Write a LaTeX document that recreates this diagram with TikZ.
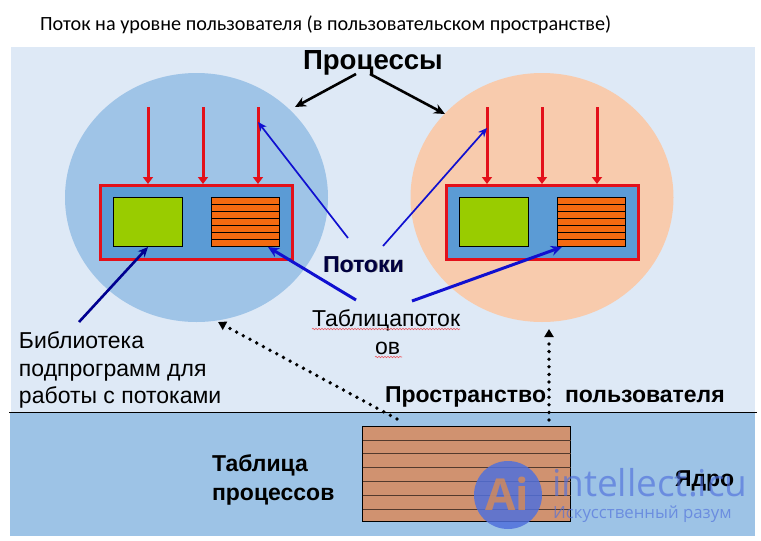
\documentclass[tikz,border=0pt]{standalone}
\usepackage{fontspec}
\setmainfont{Liberation Sans}
\newfontfamily\titlefont{Carlito}
\newfontfamily\wmfont{Open Sans}
\usetikzlibrary{arrows.meta,decorations.pathmorphing}
\definecolor{bgtop}{HTML}{DEE9F6}
\definecolor{bgbot}{HTML}{9DC3E6}
\definecolor{circleL}{HTML}{9FC4E7}
\definecolor{circleR}{HTML}{F8CBAD}
\definecolor{boxfill}{HTML}{5B9BD5}
\definecolor{redc}{HTML}{E3101A}
\definecolor{greenc}{HTML}{99CC00}
\definecolor{orangec}{HTML}{F46A10}
\definecolor{tablec}{HTML}{D09270}
\definecolor{navy}{HTML}{000090}
\definecolor{bluec}{HTML}{1010D0}
\definecolor{wm}{HTML}{5070DC}
\tikzset{
  x=1pt,y=-1pt,
  procbox/.style={draw=redc,line width=3.2pt,fill=boxfill,inner sep=0pt},
  blk/.style={draw=black,line width=1pt,inner sep=0pt},
  redarrow/.style={draw=redc,line width=3pt,-{Triangle[length=7pt,width=10pt]}},
  thinblue/.style={draw=bluec,line width=1.7pt,-{Stealth[length=9pt,width=8pt]}},
  thickblue/.style={draw=bluec,line width=3pt,-{Stealth[length=11pt,width=10pt]}},
  navyarrow/.style={draw=navy,line width=2.6pt,-{Stealth[length=10pt,width=9pt]}},
  blackarrow/.style={draw=black,line width=2.6pt,-{Stealth[length=11pt,width=10pt]}},
  dotarrow/.style={draw=black,line width=3.8pt,line cap=round,dash pattern=on 0pt off 7.6pt,-{Triangle[length=8pt,width=9pt]}},
  txt/.style={inner sep=0pt,outer sep=0pt,anchor=base west,font=\fontsize{23}{27}\selectfont},
  btxt/.style={inner sep=0pt,outer sep=0pt,anchor=base west,font=\fontsize{23}{27}\selectfont\bfseries},
  wavy/.style={draw=redc!70!white,line width=0.6pt,decorate,decoration={snake,amplitude=0.7pt,segment length=3pt}}
}
\begin{document}
\begin{tikzpicture}
\useasboundingbox (0,0) rectangle (761,541);
% backgrounds
\fill[bgtop] (11,47) rectangle (755,412);
\fill[bgbot] (10,412) rectangle (755,536);
\node[txt,font=\titlefont\fontsize{20.2}{24}\selectfont] (title) at (40,30) {Поток на уровне пользователя (в пользовательском пространстве)};
% circles
\fill[circleL] (196.5,197.5) ellipse [x radius=131.5,y radius=124.5];
\fill[circleR] (542,197.5) ellipse [x radius=131.5,y radius=124.5];
\draw[black,line width=0.9pt] (9,412) -- (757,412);
% process boxes
\foreach \nm/\ox/\ax in {L/0/0,R/346/339}{
  \node[procbox,minimum width=192pt,minimum height=74pt,anchor=north west] (box\nm) at (99+\ox,184) {};
  \node[blk,fill=greenc,minimum width=69pt,minimum height=49pt,anchor=north west] (code\nm) at (113+\ox,197) {};
  \node[blk,fill=orangec,minimum width=68pt,minimum height=49pt,anchor=north west] (tab\nm) at (211+\ox,197) {};
  \foreach \k in {1,...,6}{\draw[black,line width=0.9pt] (211.5+\ox,197.5+\k*7) -- (279.5+\ox,197.5+\k*7);}
  \foreach \i/\xx in {a/148,b/203,c/258}{
    \coordinate (top\nm\i) at (\xx+\ax,107);
    \draw[redarrow] (top\nm\i) -- (\xx+\ax,184);
  }
}
% process table
\node[blk,fill=tablec,minimum width=208pt,minimum height=95pt,anchor=north west] (ptable) at (362,426) {};
\foreach \k in {1,...,6}{\draw[black!60!tablec,line width=0.7pt] (362.5,426+\k*13.9) -- (570.5,426+\k*13.9);}
% labels
\node[btxt,font=\fontsize{27.6}{30}\selectfont\bfseries] (procs) at (303,69) {Процессы};
\node[btxt,text=black!50!white] at (323.8,272.8) {Потоки};
\node[btxt,text=black!75!blue] (threads) at (323,272) {Потоки};
\node[txt] (tt1) at (312,326) {Таблицапоток};
\node[txt] (tt2) at (375,354) {ов};
\draw[wavy] (312,329) -- (460,329);
\draw[wavy] (375,357) -- (402,357);
\node[txt] (lib1) at (19,348) {Библиотека};
\node[txt] (lib2) at (19,376) {подпрограмм для};
\node[txt] (lib3) at (19,403) {работы с потоками};
\node[btxt] (us1) at (385,402) {Пространство};
\node[btxt] (us2) at (565,402) {пользователя};
\node[btxt] (pt1) at (212,471) {Таблица};
\node[btxt] (pt2) at (212,500) {процессов};
\node[btxt] (kern) at (675,486) {Ядро};
% connectors
\coordinate (pa) at (356,74); \coordinate (pb) at (295,107);
\coordinate (pc) at (370,74); \coordinate (pd) at (445,114);
\draw[blackarrow] (pa) -- (pb);
\draw[blackarrow] (pc) -- (pd);
\coordinate (t1) at (348,238); \coordinate (t1e) at (258,122);
\coordinate (t2) at (383,246); \coordinate (t2e) at (487,128);
\draw[thinblue] (t1) -- (t1e);
\draw[thinblue] (t2) -- (t2e);
\coordinate (u1) at (356,300); \coordinate (u1e) at (268,247);
\coordinate (u2) at (412,301); \coordinate (u2e) at (562,247);
\draw[thickblue] (u1) -- (u1e);
\draw[thickblue] (u2) -- (u2e);
\coordinate (l1) at (79,322); \coordinate (l1e) at (148,247);
\draw[navyarrow] (l1) -- (l1e);
\coordinate (d1) at (397,419); \coordinate (d1e) at (218,322);
\coordinate (d2) at (549,420); \coordinate (d2e) at (549,329);
\draw[dotarrow] (d1) -- (d1e);
\draw[dotarrow] (d2) -- (d2e);
% watermark
\fill[wm,opacity=0.85] (508,495) circle (34);
\node[inner sep=0pt,text=tablec!70!orange,opacity=0.75,font=\wmfont\fontsize{44}{44}\selectfont\bfseries] (wa) at (507,494) {Ai};
\node[txt,text=wm,opacity=0.65,font=\wmfont\fontsize{37}{37}\selectfont] (wi) at (552,496) {intellect.icu};
\node[txt,text=wm,opacity=0.65,font=\wmfont\fontsize{16.8}{17}\selectfont] (wr) at (553,518) {Искусственный разум};
\end{tikzpicture}
\end{document}
